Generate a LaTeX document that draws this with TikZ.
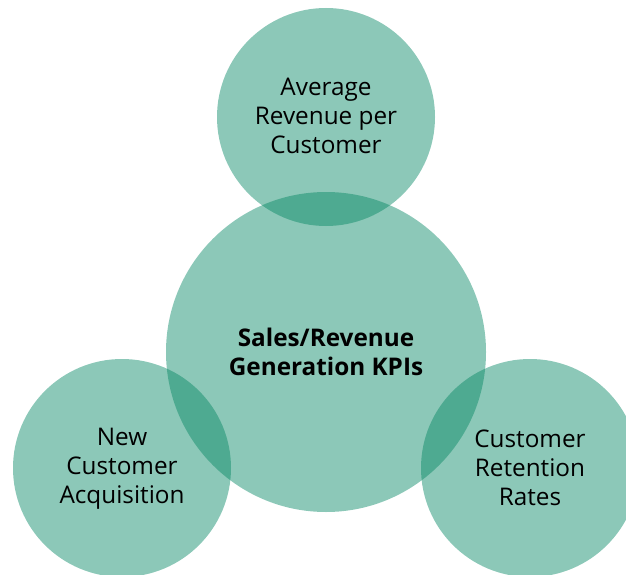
\documentclass[tikz,border=0pt]{standalone}
\usepackage{fontspec}
\setmainfont{Open Sans}
\definecolor{kpi}{RGB}{1,133,97}
\begin{document}
\begin{tikzpicture}[x=1pt,y=-1pt,
  bubble/.style={circle,fill=kpi,fill opacity=0.45,text opacity=1,inner sep=0pt},
  lbl/.style={align=center,font=\fontsize{24.3}{29}\selectfont,text=black}]
\useasboundingbox (0,0) rectangle (626,575);
\begin{scope}
\clip (0,0) rectangle (626,575);
\node[bubble,minimum size=218pt] (top) at (326,117) {};
\node[bubble,minimum size=320pt] (ctr) at (326,352) {};
\node[bubble,minimum size=218pt] (lft) at (122,468) {};
\node[bubble,minimum size=218pt] (rgt) at (530,468) {};
\end{scope}
\node[lbl,yshift=1.5pt] (ttop) at (top.center) {Average\\Revenue per\\Customer};
\node[lbl,font=\fontsize{24.3}{29}\selectfont\bfseries] (tctr) at (ctr.center) {Sales/Revenue\\Generation KPIs};
\node[lbl,yshift=-1pt] (tlft) at (lft.center) {New\\Customer\\Acquisition};
\node[lbl] (trgt) at (rgt.center) {Customer\\Retention\\Rates};
\end{tikzpicture}
\end{document}
